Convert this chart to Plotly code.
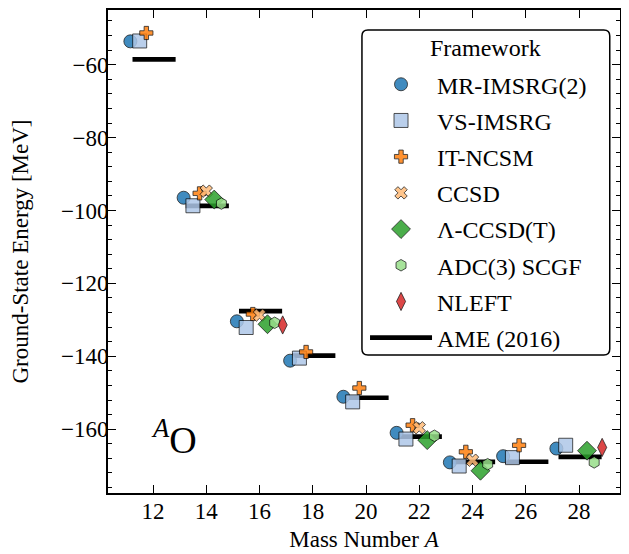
import plotly.graph_objects as go

# ---------------- data ----------------
mass_numbers = [12, 14, 16, 18, 20, 22, 24, 26, 28]

mr_imsrg = [-53.6, -96.5, -130.4, -141.2, -151.1, -161.0, -169.1, -167.4, -165.3]
vs_imsrg = [-53.5, -98.7, -132.1, -140.5, -152.5, -162.7, -170.1, -167.8, -164.4]
it_ncsm = [-51.3, -95.3, -128.4, -138.8, -148.7, -158.9, -166.2, -164.4, None]
ccsd = [None, -94.7, -128.7, None, None, -159.6, -168.5, None, None]
lambda_ccsdt = [None, -97.0, -131.2, None, None, -163.0, -171.4, None, -165.9]
adc3_scgf = [None, -98.1, -130.8, None, None, -161.8, -169.6, None, -169.1]
nleft = [None, None, -131.4, None, None, None, None, None, -165.0]
ame_2016 = [-58.55, -98.73, -127.62, -139.81, -151.37, -162.03, -168.96, -168.93, -167.6]

framework_names = ["MR-IMSRG(2)", "VS-IMSRG", "IT-NCSM", "CCSD",
                   "Λ-CCSD(T)", "ADC(3) SCGF", "NLEFT"]
framework_values = [mr_imsrg, vs_imsrg, it_ncsm, ccsd, lambda_ccsdt, adc3_scgf, nleft]

# ---------------- styles ----------------
offsets = [-0.85, -0.5, -0.25, 0.0, 0.3, 0.57, 0.87]
symbols = ["circle", "square", "cross", "x", "diamond", "hexagon", "diamond-tall"]
colors = ["#1f77b4", "#aec7e8", "#ff7f0e", "#ffbb78", "#2ca02c", "#98df8a", "#d62728"]
sizes = [13, 14, 11, 11, 14.5, 11.5, 13]

FONT = "Liberation Serif"

fig = go.Figure()

# AME horizontal bars (drawn first, behind markers)
ame_x, ame_y = [], []
for a, e in zip(mass_numbers, ame_2016):
    ame_x += [a - 0.77, a + 0.85, None]
    ame_y += [e, e, None]
fig.add_trace(go.Scatter(
    x=ame_x, y=ame_y, mode="lines", name="AME (2016)",
    line=dict(color="black", width=4.7),
    legendgroup="ame", legendrank=2000, hoverinfo="skip"))

for i, (name, vals) in enumerate(zip(framework_names, framework_values)):
    xs = [a + offsets[i] for a, v in zip(mass_numbers, vals) if v is not None]
    ys = [v for v in vals if v is not None]
    fig.add_trace(go.Scatter(
        x=xs, y=ys, mode="markers", name=name,
        legendgroup=name, legendrank=1000 + i,
        marker=dict(symbol=symbols[i], size=sizes[i], color=colors[i],
                    opacity=0.85, line=dict(color="black", width=0.8))))

# rounded legend frame
x0, x1, y0, y1 = 0.496, 0.980, 0.2857, 0.9586
rx, ry = 6 / 512, 6 / 483
path = (f"M{x0+rx},{y1} L{x1-rx},{y1} Q{x1},{y1} {x1},{y1-ry} "
        f"L{x1},{y0+ry} Q{x1},{y0} {x1-rx},{y0} "
        f"L{x0+rx},{y0} Q{x0},{y0} {x0},{y0+ry} "
        f"L{x0},{y1-ry} Q{x0},{y1} {x0+rx},{y1} Z")
fig.add_shape(type="path", path=path, xref="paper", yref="paper",
              line=dict(color="black", width=1.5), fillcolor="white", layer="below")

# legend heading
fig.add_annotation(x=(x0 + x1) / 2, y=0.922, xref="paper", yref="paper",
                   text="Framework", showarrow=False, xanchor="center", yanchor="middle",
                   font=dict(family=FONT, size=24, color="black"))

fig.add_annotation(x=12.77, y=-162.2, xref="x", yref="y",
                   text="<sup><i>A</i></sup>O", showarrow=False,
                   font=dict(family=FONT, size=38, color="black"))

axis_common = dict(
    showline=True, linecolor="black", linewidth=1.8, mirror="allticks",
    ticks="inside", ticklen=8, tickwidth=1.3, tickcolor="black",
    showgrid=False, zeroline=False, automargin=False,
    tickfont=dict(family=FONT, size=23, color="black"),
)

fig.update_xaxes(range=[10.31, 29.54], tick0=0, dtick=2, ticklabelstandoff=-4,
                 title=dict(text="Mass Number <i>A</i>",
                            font=dict(family=FONT, size=23, color="black"), standoff=8),
                 **axis_common)
fig.update_yaxes(range=[-177.5, -45], tick0=0, dtick=20, ticklabelstandoff=-7,
                 minor=dict(dtick=4, ticks="inside", ticklen=4.5, tickwidth=1, tickcolor="black"),
                 title=dict(text="Ground-State Energy [MeV]",
                            font=dict(family=FONT, size=23, color="black"), standoff=27),
                 **axis_common)

# the page body adds an 8 px offset, margins compensate for it
fig.update_layout(
    width=629, height=554,
    margin=dict(l=100, r=17, t=2, b=69, autoexpand=False),
    plot_bgcolor="white", paper_bgcolor="white",
    font=dict(family=FONT, size=23, color="black"),
    legend=dict(
        x=0.502, y=0.892, xanchor="left", yanchor="top",
        bgcolor="rgba(0,0,0,0)", borderwidth=0,
        font=dict(family=FONT, size=24, color="black"),
        tracegroupgap=2, itemwidth=62,
    ),
    showlegend=True,
)

fig.write_html("out.html")
